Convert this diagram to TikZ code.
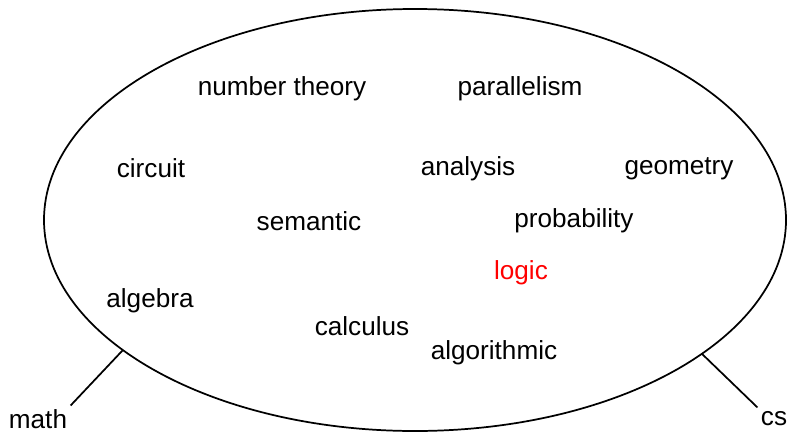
\documentclass[tikz,border=0pt]{standalone}
\usepackage{fontspec}
\setmainfont{Liberation Sans}
\usetikzlibrary{shapes.geometric}
\definecolor{hotred}{HTML}{FF0000}

\begin{document}
\begin{tikzpicture}[x=0.75pt,y=-0.75pt,font=\fontsize{19.6}{23.5}\selectfont,line width=1.3pt]
  \useasboundingbox (0,0) rectangle (789,432);
  \node[draw,ellipse,outer sep=0pt,inner sep=0pt,minimum width=556.5pt,minimum height=316.5pt] (field) at (415,220) {};

  \node[anchor=base] (numth) at (282,95) {number theory};
  \node[anchor=base] (para) at (520,95) {parallelism};
  \node[anchor=base] (circ) at (151,177) {circuit};
  \node[anchor=base] (anal) at (468,175) {analysis};
  \node[anchor=base] (geom) at (679,174) {geometry};
  \node[anchor=base] (sema) at (309,230) {semantic};
  \node[anchor=base] (prob) at (574,227) {probability};
  \node[anchor=base,text=hotred] (logic) at (521,279) {logic};
  \node[anchor=base] (alge) at (150,307) {algebra};
  \node[anchor=base] (calc) at (362,335) {calculus};
  \node[anchor=base] (algo) at (494,359) {algorithmic};

  \node[anchor=base,inner sep=2pt] (math) at (38,428) {math};
  \node[anchor=base,inner sep=2pt] (cs) at (774,425) {cs};

  \draw (field.204.7) -- (math.north east);
  \draw (field.335.3) -- (cs.north west);
\end{tikzpicture}
\end{document}
